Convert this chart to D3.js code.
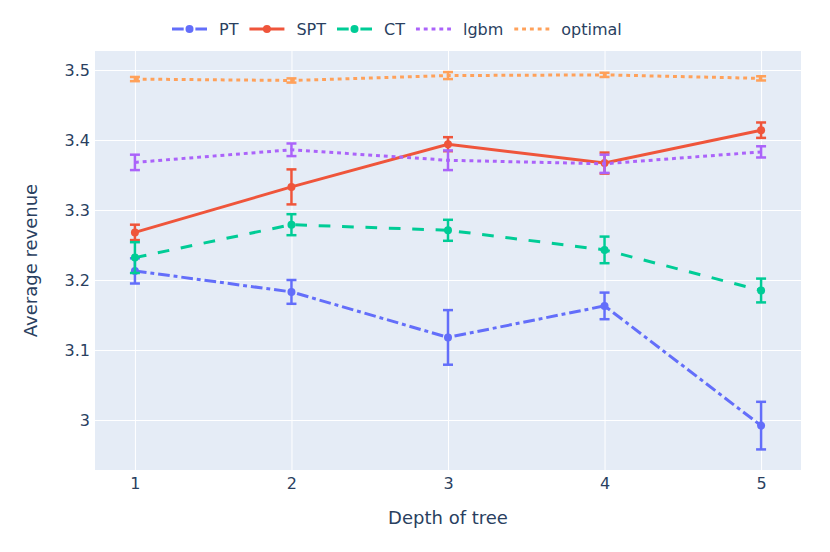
<!DOCTYPE html>
<html>
<head>
<meta charset="utf-8">
<script src="https://cdn.jsdelivr.net/npm/d3@7"></script>
<style>
  html, body { margin: 0; padding: 0; background: #fff; }
  svg { display: block; font-family: "DejaVu Sans", verdana, arial, sans-serif; }
</style>
</head>
<body>
<svg width="830" height="552"></svg>
<script>
const depths = [1, 2, 3, 4, 5];
const yTicks = [3, 3.1, 3.2, 3.3, 3.4, 3.5];

const ptMean = [3.213, 3.183, 3.118, 3.163, 2.992];
const ptErr = [0.018, 0.017, 0.039, 0.019, 0.034];
const sptMean = [3.268, 3.333, 3.394, 3.367, 3.414];
const sptErr = [0.011, 0.025, 0.010, 0.015, 0.011];
const ctMean = [3.232, 3.279, 3.271, 3.243, 3.185];
const ctErr = [0.022, 0.015, 0.015, 0.019, 0.017];
const lgbmMean = [3.368, 3.386, 3.371, 3.366, 3.383];
const lgbmErr = [0.011, 0.009, 0.014, 0.013, 0.008];
const optMean = [3.487, 3.485, 3.492, 3.493, 3.488];
const optErr = [0.003, 0.003, 0.005, 0.003, 0.003];

const series = [
  {name: "PT", mean: ptMean, err: ptErr, color: "#636efa", dash: "11.7,3.9,3.9,3.9", markers: true},
  {name: "SPT", mean: sptMean, err: sptErr, color: "#EF553B", dash: null, markers: true},
  {name: "CT", mean: ctMean, err: ctErr, color: "#00cc96", dash: "11.7,11.7", markers: true},
  {name: "lgbm", mean: lgbmMean, err: lgbmErr, color: "#ab63fa", dash: "3.9,3.9", markers: false},
  {name: "optimal", mean: optMean, err: optErr, color: "#FFA15A", dash: "3.9,3.9", markers: false}
];

const svg = d3.select("svg");
const m = {left: 95, right: 29, top: 51, bottom: 82};
const W = 830 - m.left - m.right, H = 552 - m.top - m.bottom;
const textColor = "#2a3f5f";

const x = d3.scaleLinear().domain([0.745, 5.255]).range([0, W]);
const y = d3.scaleLinear().domain([2.9286, 3.5271]).range([H, 0]);

const g = svg.append("g").attr("transform", `translate(${m.left},${m.top})`);
g.append("rect").attr("width", W).attr("height", H).attr("fill", "#E5ECF6");

// grid via axes
g.append("g")
  .call(d3.axisBottom(x).tickValues(depths).tickSize(H).tickFormat(""))
  .call(a => a.select(".domain").remove())
  .call(a => a.selectAll("line").attr("stroke", "#fff").attr("stroke-width", 1));
g.append("g")
  .call(d3.axisLeft(y).tickValues(yTicks).tickSize(-W).tickFormat(""))
  .call(a => a.select(".domain").remove())
  .call(a => a.selectAll("line").attr("stroke", "#fff").attr("stroke-width", 1));

// tick labels
g.append("g").attr("transform", `translate(0,${H})`)
  .call(d3.axisBottom(x).tickValues(depths).tickSize(0).tickPadding(8).tickFormat(d3.format("d")))
  .call(a => a.select(".domain").remove())
  .call(a => a.selectAll("text").attr("fill", textColor).attr("font-size", 16)
    .attr("font-family", "'DejaVu Sans', sans-serif"));
g.append("g")
  .call(d3.axisLeft(y).tickValues(yTicks).tickSize(0).tickPadding(5).tickFormat(d => d3.format("")(+d.toFixed(1))))
  .call(a => a.select(".domain").remove())
  .call(a => a.selectAll("text").attr("fill", textColor).attr("font-size", 16)
    .attr("font-family", "'DejaVu Sans', sans-serif"));

// axis titles
svg.append("text")
  .attr("x", m.left + W / 2).attr("y", 524)
  .attr("text-anchor", "middle").attr("fill", textColor).attr("font-size", 18)
  .text("Depth of tree");
svg.append("text")
  .attr("transform", `translate(37,${m.top + H / 2}) rotate(-90)`)
  .attr("text-anchor", "middle").attr("fill", textColor).attr("font-size", 18)
  .text("Average revenue");

// traces
const line = d3.line().x(d => x(d.x)).y(d => y(d.y));
const plot = g.append("g");
series.forEach(s => {
  const pts = depths.map((d, i) => ({x: d, y: s.mean[i], e: s.err[i]}));
  const sg = plot.append("g");
  const eb = sg.selectAll(".eb").data(pts).enter().append("g")
    .attr("stroke", s.color).attr("stroke-width", 2.5);
  eb.append("line")
    .attr("x1", d => x(d.x)).attr("x2", d => x(d.x))
    .attr("y1", d => y(d.y - d.e)).attr("y2", d => y(d.y + d.e));
  eb.append("line")
    .attr("x1", d => x(d.x) - 5).attr("x2", d => x(d.x) + 5)
    .attr("y1", d => y(d.y + d.e)).attr("y2", d => y(d.y + d.e));
  eb.append("line")
    .attr("x1", d => x(d.x) - 5).attr("x2", d => x(d.x) + 5)
    .attr("y1", d => y(d.y - d.e)).attr("y2", d => y(d.y - d.e));
  sg.append("path").datum(pts)
    .attr("d", line).attr("fill", "none")
    .attr("stroke", s.color).attr("stroke-width", 3)
    .attr("stroke-dasharray", s.dash);
  if (s.markers) {
    sg.selectAll("circle").data(pts).enter().append("circle")
      .attr("cx", d => x(d.x)).attr("cy", d => y(d.y)).attr("r", 4)
      .attr("fill", s.color);
  }
});

// legend
const legend = svg.append("g").attr("transform", "translate(172,29)");
let lx = 0;
series.forEach(s => {
  const it = legend.append("g").attr("transform", `translate(${lx},0)`);
  it.append("line").attr("x1", 0).attr("x2", 35).attr("y1", 0).attr("y2", 0)
    .attr("stroke", s.color).attr("stroke-width", 3).attr("stroke-dasharray", s.dash);
  if (s.markers) it.append("circle").attr("cx", 17.5).attr("cy", 0).attr("r", 4).attr("fill", s.color);
  const t = it.append("text").attr("x", 47).attr("dy", "0.35em")
    .attr("fill", textColor).attr("font-size", 16).text(s.name);
  lx += 47 + t.node().getComputedTextLength() + 11;
});
</script>
</body>
</html>
